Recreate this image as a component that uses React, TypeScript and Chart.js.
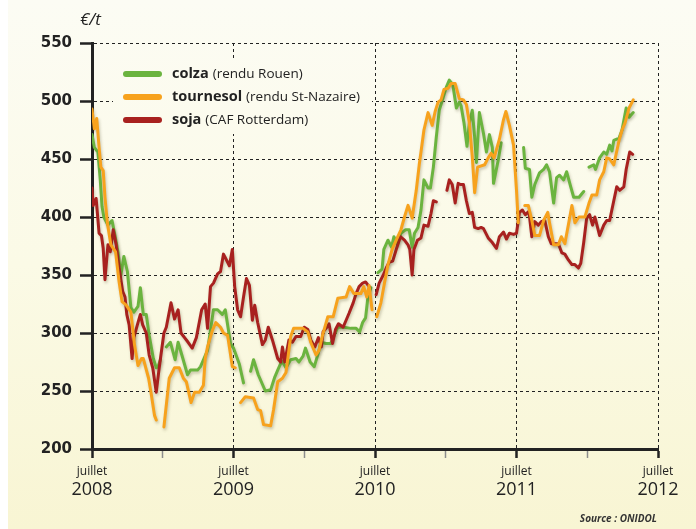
import { useEffect, useRef } from 'react';
import { Chart, registerables } from 'chart.js';

Chart.register(...registerables);

// x = months since July 2008, y = €/t ; null = gap in the quotation
const monthLabel = 'juillet';
const yearLabels = ['2008', '2009', '2010', '2011', '2012'];

const tournesol: [number, number | null][] = [
  [0, 493], [0.2, 476], [0.4, 485], [0.6, 460], [0.75, 443], [0.95, 440], [1.1, 417], [1.3, 395], [1.6, 376], [2.0, 370],
  [2.3, 344], [2.55, 327], [2.9, 324], [3.3, 318], [3.6, 290], [3.9, 272], [4.2, 278], [4.35, 278], [4.8, 261], [5.0, 249],
  [5.3, 229], [5.45, 225], [5.8, null], [6.1, 219], [6.55, 261], [7.0, 270], [7.4, 270], [7.75, 261], [8.0, 258], [8.4, 240],
  [8.7, 249], [9.1, 249], [9.45, 255], [9.6, 278], [9.8, 288], [10.2, 302], [10.5, 309], [10.9, 305], [11.15, 300], [11.5, 298],
  [11.9, 271], [12.15, 270], [12.4, null], [12.6, 240], [13.0, 245], [13.7, 244], [14.05, 234], [14.3, 233], [14.55, 221], [15.15, 220],
  [15.4, 234], [15.75, 258], [16.15, 261], [16.45, 266], [16.85, 297], [17.1, 304], [17.9, 304], [18.3, 301], [18.55, 292], [19.0, 281],
  [19.25, 285], [19.55, 298], [20.0, 314], [20.45, 314], [20.85, 330], [21.55, 331], [21.85, 340], [22.2, 334], [22.8, 334], [23.05, 340],
  [23.3, 331], [23.5, 341], [23.75, 320], [23.95, null], [24.15, 314], [24.5, 326], [24.8, 343], [25.1, 359], [25.45, 372], [25.8, 380],
  [26.2, 389], [26.5, 400], [26.8, 410], [27.15, 399], [27.5, 423], [27.75, 445], [27.9, 456], [28.15, 475], [28.5, 490], [28.85, 479],
  [29.1, 491], [29.35, 499], [29.6, 501], [29.85, 510], [30.2, 511], [30.45, 515], [30.8, 515], [31.15, 502], [31.5, 501], [31.75, 497],
  [32.0, 481], [32.25, 452], [32.45, 421], [32.7, 443], [33.3, 445], [33.6, 451], [33.85, 455], [34.1, 451], [34.55, 467], [34.9, 484],
  [35.1, 491], [35.4, 479], [35.75, 462], [36.0, 423], [36.15, 395], [36.4, null], [36.7, 410], [37.0, 410], [37.3, 397], [37.55, 384],
  [37.95, 384], [38.3, 397], [38.65, 404], [38.8, 395], [39.15, 376], [39.55, 376], [39.8, 383], [40.1, 377], [40.45, 396], [40.7, 410],
  [40.95, 395], [41.3, 400], [41.8, 400], [42.15, 412], [42.4, 419], [42.8, 419], [43.05, 432], [43.4, 439], [43.65, 451], [43.9, 450],
  [44.25, 445], [44.7, 466], [44.95, 475], [45.2, 481], [45.55, 494], [45.9, 501],
];

const colza: [number, number | null][] = [
  [0, 471], [0.2, 460], [0.5, 456], [0.7, 432], [0.85, 409], [1.0, 400], [1.35, 393], [1.7, 397], [1.95, 384], [2.2, 370],
  [2.45, 350], [2.7, 366], [3.0, 353], [3.3, 322], [3.55, 318], [3.9, 323], [4.1, 339], [4.35, 316], [4.6, 316], [4.85, 298],
  [5.2, 278], [5.45, 270], [5.6, 271], [5.8, 277], [6.05, null], [6.3, 288], [6.65, 292], [7.05, 277], [7.3, 292], [7.65, 280],
  [8.1, 264], [8.35, 268], [8.95, 268], [9.2, 271], [9.8, 285], [10.3, 320], [10.65, 320], [11.05, 316], [11.3, 320], [11.75, 291],
  [12.0, 287], [12.5, 273], [12.85, 257], [13.15, null], [13.45, 267], [13.7, 277], [14.1, 264], [14.7, 250], [15.15, 251], [15.5, 262],
  [15.75, 268], [16.1, 276], [16.45, 270], [16.85, 277], [17.3, 278], [17.55, 275], [17.9, 280], [18.1, 287], [18.5, 275], [18.85, 271],
  [19.2, 283], [19.4, 292], [19.85, 291], [20.25, 291], [20.5, 297], [20.85, 305], [21.35, 305], [21.95, 304], [22.4, 304], [22.7, 301],
  [22.95, 309], [23.2, 313], [23.4, 331], [23.65, 339], [23.95, null], [24.25, 352], [24.6, 355], [24.75, 372], [25.1, 380], [25.4, 374],
  [25.6, 383], [25.9, 376], [26.2, 386], [26.6, 389], [26.9, 389], [27.15, 374], [27.35, 386], [27.65, 391], [27.9, 406], [28.15, 432],
  [28.5, 425], [28.7, 425], [28.95, 443], [29.2, 469], [29.45, 492], [30.05, 512], [30.3, 518], [30.6, 514], [30.9, 494], [31.15, 499],
  [31.3, 496], [31.55, 481], [31.8, 461], [32.0, 481], [32.25, 492], [32.45, 469], [32.6, 447], [32.85, 490], [33.2, 472], [33.45, 456],
  [33.7, 471], [33.95, 460], [34.05, 429], [34.45, 449], [34.7, 464], [35.5, null], [36.6, 460], [36.75, 442], [37.1, 441], [37.3, 417],
  [37.55, 428], [37.95, 438], [38.3, 441], [38.55, 445], [38.8, 439], [39.15, 412], [39.4, 434], [39.65, 436], [40.0, 432], [40.25, 439],
  [40.6, 426], [40.85, 417], [41.3, 417], [41.7, 422], [41.9, null], [42.15, 443], [42.55, 445], [42.7, 441], [43.05, 451], [43.4, 456],
  [43.65, 454], [43.9, 462], [44.1, 457], [44.25, 466], [44.7, 468], [44.95, 475], [45.3, 494], [45.55, 486], [45.9, 490],
];

const soja: [number, number | null][] = [
  [0, 425], [0.1, 410], [0.35, 416], [0.6, 386], [0.8, 384], [0.95, 373], [1.1, 346], [1.35, 376], [1.55, 370], [1.8, 389],
  [2.05, 376], [2.3, 356], [2.6, 336], [2.8, 331], [2.95, 316], [3.15, 307], [3.4, 278], [3.55, 296], [3.9, 309], [4.1, 316],
  [4.3, 307], [4.6, 300], [4.85, 281], [5.15, 270], [5.45, 249], [5.7, 270], [6.1, 300], [6.3, 305], [6.7, 326], [7.0, 312],
  [7.3, 320], [7.55, 300], [7.85, 296], [8.15, 292], [8.5, 287], [8.85, 296], [9.3, 320], [9.6, 325], [9.8, 304], [10.05, 340],
  [10.3, 343], [10.65, 351], [10.9, 353], [11.15, 368], [11.5, 361], [11.65, 358], [11.9, 372], [12.1, 340], [12.35, 320], [12.6, 314],
  [12.85, 331], [13.1, 347], [13.35, 341], [13.6, 311], [13.8, 324], [14.05, 309], [14.45, 290], [14.7, 294], [14.95, 305], [15.3, 294],
  [15.75, 278], [16.0, 275], [16.15, 288], [16.35, 275], [16.7, 294], [17.0, 292], [17.3, 297], [17.7, 297], [18.0, 305], [18.3, 303],
  [18.55, 294], [18.9, 288], [19.2, 296], [19.45, 288], [19.6, 301], [19.85, 304], [20.1, 308], [20.4, 291], [20.65, 303], [20.9, 308],
  [21.3, 305], [21.55, 311], [21.8, 317], [22.15, 326], [22.4, 334], [22.65, 340], [22.95, 343], [23.2, 344], [23.5, 340], [23.8, null],
  [24.1, 333], [24.35, 343], [24.7, 350], [24.95, 356], [25.2, 361], [25.5, 362], [25.8, 372], [26.15, 383], [26.5, 380], [26.8, 376],
  [26.95, 372], [27.15, 350], [27.3, 372], [27.6, 380], [27.9, 382], [28.15, 393], [28.5, 392], [28.75, 403], [28.95, 414], [29.2, 413],
  [29.65, null], [30.1, 423], [30.3, 432], [30.55, 428], [30.8, 412], [31.05, 429], [31.25, 428], [31.5, 428], [31.75, 414], [32.0, 403],
  [32.25, 404], [32.45, 391], [32.75, 390], [33.0, 391], [33.2, 390], [33.6, 382], [33.95, 378], [34.3, 373], [34.55, 383], [34.9, 387],
  [35.15, 381], [35.4, 386], [35.75, 385], [36.0, 386], [36.25, 404], [36.5, 406], [36.75, 402], [37.05, 405], [37.3, 383], [37.55, 396],
  [37.85, 393], [38.1, 396], [38.4, 397], [38.7, 383], [38.95, 377], [39.25, 377], [39.55, 377], [39.85, 369], [40.1, 368], [40.4, 363],
  [40.7, 359], [40.95, 359], [41.25, 356], [41.45, 360], [41.7, 378], [41.95, 399], [42.2, 402], [42.45, 393], [42.65, 400], [42.9, 390],
  [43.05, 384], [43.4, 393], [43.65, 397], [43.9, 397], [44.25, 414], [44.5, 426], [44.75, 423], [45.1, 426], [45.3, 441], [45.6, 456],
  [45.85, 454],
];

const legendItems = [
  { name: 'colza', detail: '(rendu Rouen)', color: '#6bb43f' },
  { name: 'tournesol', detail: '(rendu St-Nazaire)', color: '#f7a21d' },
  { name: 'soja', detail: '(CAF Rotterdam)', color: '#a8211f' },
];

const W = 696;
const H = 529;

function makeGradient(ctx: CanvasRenderingContext2D) {
  const g = ctx.createLinearGradient(0, 0, 0, H);
  g.addColorStop(0, '#fcfcf4');
  g.addColorStop(0.5, '#fbfae6');
  g.addColorStop(1, '#f8f5d3');
  return g;
}

const backgroundPlugin = {
  id: 'bg',
  beforeDraw(chart: any) {
    const ctx = chart.ctx as CanvasRenderingContext2D;
    ctx.save();
    ctx.fillStyle = '#ffffff';
    ctx.fillRect(0, 0, W, H);
    ctx.fillStyle = makeGradient(ctx);
    ctx.fillRect(8, 0, W - 8, H);
    ctx.restore();
  },
};

const legendPlugin = {
  id: 'innerLegend',
  beforeDatasetsDraw(chart: any) {
    const ctx = chart.ctx as CanvasRenderingContext2D;
    ctx.save();
    ctx.fillStyle = makeGradient(ctx);
    ctx.fillRect(113, 59, 259, 75);
    legendItems.forEach((it, i) => {
      const cy = 74 + i * 23;
      ctx.strokeStyle = it.color;
      ctx.lineWidth = 6;
      ctx.lineCap = 'round';
      ctx.beginPath();
      ctx.moveTo(126, cy);
      ctx.lineTo(159, cy);
      ctx.stroke();
      ctx.fillStyle = '#222';
      ctx.textBaseline = 'middle';
      ctx.textAlign = 'left';
      ctx.font = 'bold 14.5px "Open Sans"';
      ctx.fillText(it.name, 172, cy);
      const w = ctx.measureText(it.name).width;
      ctx.font = '13.5px "Open Sans"';
      ctx.fillText(it.detail, 172 + w + 4, cy);
    });
    ctx.restore();
  },
};

const textPlugin = {
  id: 'texts',
  afterDraw(chart: any) {
    const ctx = chart.ctx as CanvasRenderingContext2D;
    ctx.save();
    ctx.fillStyle = '#222';
    ctx.textBaseline = 'alphabetic';
    ctx.textAlign = 'left';
    ctx.font = 'italic 17px "Open Sans"';
    ctx.fillText('€/t', 80, 25);
    ctx.textAlign = 'right';
    ctx.fillStyle = '#333';
    ctx.font = 'italic bold 10px "Open Sans"';
    ctx.fillText('Source : ONIDOL', 657, 522);
    ctx.restore();
  },
};

const shadowPlugin = {
  id: 'lineShadow',
  beforeDatasetDraw(chart: any) {
    const ctx = chart.ctx as CanvasRenderingContext2D;
    ctx.save();
    ctx.shadowColor = 'rgba(70,60,20,0.28)';
    ctx.shadowBlur = 3;
    ctx.shadowOffsetX = 1;
    ctx.shadowOffsetY = 2;
  },
  afterDatasetDraw(chart: any) {
    chart.ctx.restore();
  },
};

const toPoints = (arr: [number, number | null][]) => arr.map(([x, y]) => ({ x, y }));

export default function App() {
  const ref = useRef<HTMLCanvasElement | null>(null);

  useEffect(() => {
    document.body.style.margin = '0';
    if (!ref.current) return;
    const chart = new Chart(ref.current, {
      type: 'line',
      data: {
        datasets: [
          { label: 'tournesol', data: toPoints(tournesol) as any, borderColor: '#f7a21d', order: 0 },
          { label: 'soja', data: toPoints(soja) as any, borderColor: '#a8211f', order: 1 },
          { label: 'colza', data: toPoints(colza) as any, borderColor: '#6bb43f', order: 2 },
        ],
      },
      options: {
        responsive: false,
        animation: false,
        spanGaps: false,
        layout: { padding: { left: 0, right: 38, top: 43, bottom: 0 } },
        elements: {
          line: { borderWidth: 3, tension: 0, borderJoinStyle: 'round', borderCapStyle: 'round', fill: false },
          point: { radius: 0, hoverRadius: 0 },
        },
        plugins: { legend: { display: false }, tooltip: { enabled: false } },
        scales: {
          x: {
            type: 'linear',
            position: 'bottom',
            weight: 0,
            min: 0,
            max: 48,
            afterFit: (s: any) => { s.height = 30; },
            ticks: {
              stepSize: 6,
              autoSkip: false,
              maxRotation: 0,
              padding: 6,
              color: '#222',
              font: { family: 'Open Sans', size: 12 },
              callback: (v: any) => (Number(v) % 12 === 0 ? monthLabel : ''),
            },
            grid: {
              color: (c: any) => (c.tick && c.tick.value % 12 === 0 && c.tick.value > 0 ? '#222' : 'rgba(0,0,0,0)'),
              lineWidth: 1,
              tickLength: 9,
              tickColor: (c: any) => (c.tick && c.tick.value % 12 === 0 ? '#222' : '#8c8c8c'),
              tickWidth: (c: any) => (c.tick && c.tick.value % 12 === 0 ? 2.5 : 1.5),
            },
            border: { display: true, color: '#222', width: 3, dash: [3, 3] },
          },
          xYear: {
            type: 'linear',
            position: 'bottom',
            weight: 1,
            min: 0,
            max: 48,
            afterFit: (s: any) => { s.height = 50; },
            ticks: {
              stepSize: 12,
              autoSkip: false,
              maxRotation: 0,
              padding: 0,
              color: '#222',
              font: { family: 'Open Sans', size: 18 },
              callback: (v: any) => yearLabels[Math.round(Number(v) / 12)] ?? '',
            },
            grid: { display: false, drawTicks: false },
            border: { display: false },
          },
          y: {
            type: 'linear',
            min: 200,
            max: 550,
            afterFit: (s: any) => { s.width = 92; },
            ticks: {
              stepSize: 50,
              padding: 8,
              color: '#222',
              font: { family: 'DejaVu Sans', size: 15, weight: 'bold' },
            },
            grid: {
              color: (c: any) => (c.tick && c.tick.value === 200 ? 'rgba(0,0,0,0)' : '#222'),
              lineWidth: 1,
              tickLength: 12,
              tickColor: '#222',
              tickWidth: 2.5,
            },
            border: { display: true, color: '#222', width: 3, dash: [3, 3] },
          },
        },
      } as any,
      plugins: [backgroundPlugin, legendPlugin, shadowPlugin, textPlugin],
    });
    return () => chart.destroy();
  }, []);

  return (
    <div style={{ width: W, height: H }}>
      <canvas ref={ref} width={W} height={H} style={{ display: 'block' }} />
    </div>
  );
}
